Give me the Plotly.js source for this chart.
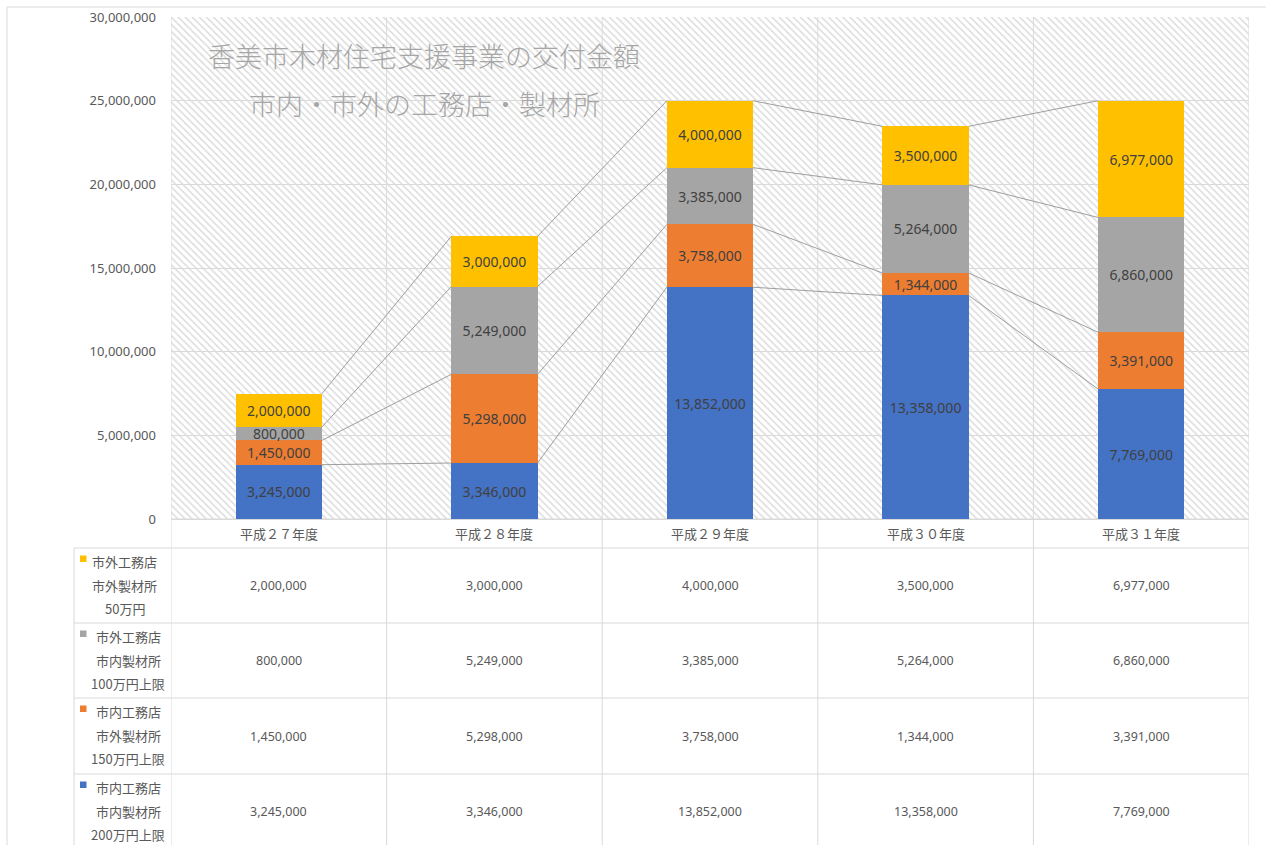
<!DOCTYPE html>
<html>
<head>
<meta charset="utf-8">
<script src="https://cdn.plot.ly/plotly-3.0.1.min.js"></script>
<style>
html,body{margin:0;padding:0;background:#fff;}
#chart{width:1266px;height:845px;}
</style>
</head>
<body>
<div id="chart"></div>
<script>
// ---- data ----
const years = ['平成２７年度', '平成２８年度', '平成２９年度', '平成３０年度', '平成３１年度'];
const naiKoumu_naiSeizai = [3245000, 3346000, 13852000, 13358000, 7769000];   // blue
const naiKoumu_gaiSeizai = [1450000, 5298000, 3758000, 1344000, 3391000];     // orange
const gaiKoumu_naiSeizai = [800000, 5249000, 3385000, 5264000, 6860000];      // gray
const gaiKoumu_gaiSeizai = [2000000, 3000000, 4000000, 3500000, 6977000];     // yellow
const seriesNames = [
  ['市内工務店', '市内製材所', '200万円上限'],
  ['市内工務店', '市外製材所', '150万円上限'],
  ['市外工務店', '市内製材所', '100万円上限'],
  ['市外工務店', '市外製材所', '50万円']
];
const titleLines = ['香美市木材住宅支援事業の交付金額', '市内・市外の工務店・製材所'];

// ---- layout helpers ----
const W = 1266, H = 845;
const X = px => px / W;
const Y = py => 1 - py / H;
const colors = ['#4472C4', '#ED7D31', '#A5A5A5', '#FFC000'];
const seriesData = [naiKoumu_naiSeizai, naiKoumu_gaiSeizai, gaiKoumu_naiSeizai, gaiKoumu_gaiSeizai];
const xIdx = years.map((_, i) => i);
const fmt = v => v.toLocaleString('en-US');
const yMax = 30000000;
const barW = 0.4;
const textCol = '#595959';
const lineCol = '#D9D9D9';
const cjk = '"Noto Sans CJK JP", "Noto Sans", sans-serif';
const num = '"Noto Sans", "Noto Sans CJK JP", sans-serif';

const traces = [];
// hatched plot-area background (main subplot, below the overlay)
traces.push({
  type: 'scatter', mode: 'lines', xaxis: 'x', yaxis: 'y',
  x: [-0.5, years.length - 0.5, years.length - 0.5, -0.5, -0.5],
  y: [0, 0, yMax, yMax, 0],
  fill: 'toself', fillcolor: 'rgba(255,255,255,0)',
  fillpattern: {shape: '\\', fgcolor: '#DCDCDC', bgcolor: 'rgba(255,255,255,0)', size: 5, solidity: 0.3},
  line: {width: 0}, hoverinfo: 'skip', showlegend: false
});

// stacked bars (overlay subplot)
seriesData.forEach((vals, s) => {
  traces.push({
    type: 'bar', xaxis: 'x2', yaxis: 'y2',
    x: xIdx, y: vals, width: barW,
    marker: {color: colors[s], line: {width: 0}},
    text: vals.map(fmt), textposition: 'inside', insidetextanchor: 'middle',
    textfont: {family: num, size: 14, color: '#404040'},
    hoverinfo: 'skip', showlegend: false
  });
});

// series lines between stacked bars
const cum = [];
let run = years.map(() => 0);
seriesData.forEach(vals => { run = run.map((r, i) => r + vals[i]); cum.push(run.slice()); });
const slx = [], sly = [];
cum.forEach(level => {
  for (let i = 0; i < years.length - 1; i++) {
    slx.push(i + barW / 2, i + 1 - barW / 2, null);
    sly.push(level[i], level[i + 1], null);
  }
});
traces.push({
  type: 'scatter', mode: 'lines', xaxis: 'x2', yaxis: 'y2',
  x: slx, y: sly, line: {color: '#9E9E9E', width: 1},
  hoverinfo: 'skip', showlegend: false, connectgaps: false
});

// ---- shapes (table lines, borders) ----
const shapes = [];
const L = (x0, y0, x1, y1, c, w) => shapes.push({type: 'line', xref: 'paper', yref: 'paper',
  x0: X(x0), y0: Y(y0), x1: X(x1), y1: Y(y1), line: {color: c || lineCol, width: w || 1}, layer: 'below'});
// outer chart border
L(7, 7, W + 5, 7);
L(7, 7, 7, H + 5);
// vertical category lines through plot and table
for (let i = 0; i <= years.length; i++) {
  shapes.push({type: 'line', xref: 'x', yref: 'paper', x0: i - 0.5, x1: i - 0.5,
    y0: Y(17), y1: Y(H + 5), line: {color: lineCol, width: 1}, layer: 'below'});
}
// table rows
const rowTops = [548, 623, 698, 774];
const rowBottom = 849;
L(171, 519, 1249, 519);
rowTops.forEach(r => L(74, r, 1249, r));
L(74, 548, 74, H + 5);

// ---- annotations ----
const annotations = [];
titleLines.forEach((t, k) => annotations.push({
  xref: 'paper', yref: 'paper', x: X(424), y: Y(k === 0 ? 56 : 103),
  text: t, showarrow: false, xanchor: 'center', yanchor: 'middle',
  font: {family: cjk, size: 27, color: '#A6A6A6', weight: 300}
}));
// category labels
years.forEach((yr, i) => annotations.push({
  xref: 'x', yref: 'paper', x: i, y: Y(533), text: yr, showarrow: false,
  xanchor: 'center', yanchor: 'middle', font: {family: cjk, size: 13, color: textCol}
}));
// table rows: top row is last series (yellow) ... bottom row first series (blue)
const rowOrder = [3, 2, 1, 0];
rowOrder.forEach((s, r) => {
  const top = rowTops[r];
  const bottom = r + 1 < rowTops.length ? rowTops[r + 1] : rowBottom;
  const mid = (top + bottom) / 2;
  seriesData[s].forEach((v, i) => annotations.push({
    xref: 'x', yref: 'paper', x: i, y: Y(mid), text: fmt(v), showarrow: false,
    xanchor: 'center', yanchor: 'middle', font: {family: num, size: 12.5, color: textCol}
  }));
  const cx = r === 0 ? 124.5 : 128;
  seriesNames[s].forEach((ln, k) => annotations.push({
    xref: 'paper', yref: 'paper', x: X(cx), y: Y(top + 13.5 + k * 23.5), text: ln, showarrow: false,
    xanchor: 'center', yanchor: 'middle', font: {family: cjk, size: 13, color: textCol}
  }));
  shapes.push({type: 'rect', xref: 'paper', yref: 'paper', x0: X(80), x1: X(86.5),
    y0: Y(top + 7.5), y1: Y(top + 14), fillcolor: colors[s], line: {width: 0}, layer: 'above'});
});

const layout = {
  width: W, height: H,
  margin: {l: 0, r: 0, t: 0, b: 0, pad: 0},
  paper_bgcolor: '#ffffff', plot_bgcolor: '#ffffff',
  showlegend: false, barmode: 'stack', bargap: 0,
  xaxis: {domain: [X(171), X(1249)], range: [-0.5, years.length - 0.5], showgrid: false,
    zeroline: false, showticklabels: false, ticks: '', fixedrange: true},
  yaxis: {domain: [Y(519), Y(17)], range: [0, yMax], dtick: 5000000, tickformat: ',d',
    showgrid: true, gridcolor: lineCol, gridwidth: 1, zeroline: true, zerolinecolor: lineCol,
    ticks: '', ticklabelstandoff: 14, tickfont: {family: num, size: 13, color: textCol}, fixedrange: true},
  xaxis2: {overlaying: 'x', anchor: 'y2', range: [-0.5, years.length - 0.5], visible: false, fixedrange: true},
  yaxis2: {overlaying: 'y', anchor: 'x2', range: [0, yMax], visible: false, fixedrange: true},
  uniformtext: {mode: 'show', minsize: 14},
  shapes: shapes, annotations: annotations,
  hovermode: false
};

Plotly.newPlot('chart', traces, layout, {staticPlot: true, displayModeBar: false});
</script>
</body>
</html>
